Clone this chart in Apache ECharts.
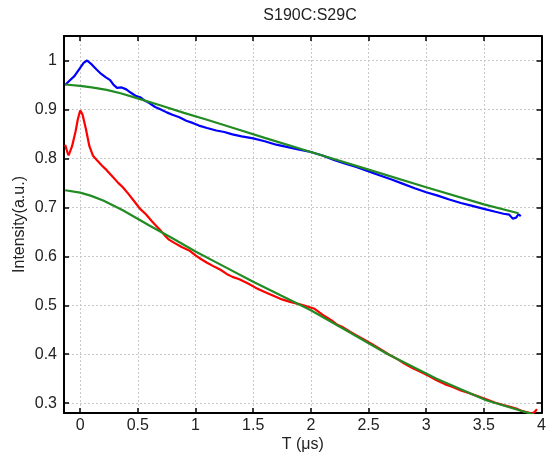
<!DOCTYPE html>
<html>
<head>
<meta charset="utf-8">
<script src="https://cdn.jsdelivr.net/npm/echarts@6/dist/echarts.min.js"></script>
<style>html,body{margin:0;padding:0;background:#fff}#c{width:549px;height:466px}</style>
</head>
<body>
<div id="c"></div>
<script>
var title = 'S190C:S29C';
var xName = 'T (\u03bcs)';
var yName = 'Intensity(a.u.)';
var xTicks = [0, 0.5, 1, 1.5, 2, 2.5, 3, 3.5, 4];
var yTicks = [0.3, 0.4, 0.5, 0.6, 0.7, 0.8, 0.9, 1];

var blueX = [-0.13,-0.10,-0.05,0.00,0.03,0.06,0.10,0.14,0.18,0.22,0.26,0.29,0.32,0.36,0.40,0.44,0.48,0.52,0.56,0.60,0.65,0.70,0.75,0.80,0.86,0.92,0.98,1.03,1.10,1.18,1.25,1.32,1.40,1.50,1.60,1.70,1.80,1.90,2.00,2.10,2.20,2.30,2.40,2.52,2.60,2.70,2.80,2.90,3.00,3.10,3.20,3.30,3.40,3.50,3.60,3.67,3.72,3.75,3.78,3.80,3.82];
var blueY = [0.950,0.957,0.968,0.985,0.995,1.000,0.992,0.982,0.973,0.966,0.960,0.950,0.944,0.945,0.941,0.934,0.928,0.925,0.918,0.913,0.905,0.900,0.894,0.889,0.884,0.877,0.872,0.867,0.862,0.857,0.854,0.849,0.845,0.841,0.835,0.828,0.823,0.818,0.813,0.806,0.797,0.789,0.782,0.772,0.765,0.757,0.748,0.739,0.731,0.724,0.716,0.709,0.703,0.697,0.691,0.687,0.685,0.677,0.679,0.686,0.682];

var fitBlueX = [-0.13,0.00,0.10,0.23,0.35,0.52,0.70,0.90,1.10,1.37,1.60,2.00,2.50,3.00,3.50,3.80];
var fitBlueY = [0.951,0.948,0.945,0.940,0.933,0.921,0.908,0.893,0.879,0.859,0.842,0.813,0.777,0.741,0.706,0.688];

var redX = [-0.13,-0.11,-0.10,-0.07,-0.04,-0.02,0.00,0.02,0.05,0.08,0.11,0.15,0.19,0.23,0.28,0.33,0.37,0.42,0.47,0.52,0.57,0.62,0.66,0.70,0.74,0.77,0.82,0.88,0.945,1.00,1.05,1.10,1.17,1.22,1.27,1.32,1.38,1.46,1.52,1.60,1.67,1.75,1.82,1.89,1.95,2.03,2.10,2.18,2.23,2.28,2.34,2.40,2.46,2.52,2.60,2.68,2.75,2.81,2.88,2.95,3.02,3.09,3.16,3.23,3.30,3.38,3.45,3.52,3.60,3.67,3.72,3.78,3.83,3.87,3.90,3.92,3.94,3.96];
var redY = [0.828,0.812,0.806,0.825,0.855,0.880,0.898,0.890,0.860,0.825,0.806,0.795,0.785,0.776,0.763,0.750,0.741,0.727,0.712,0.697,0.686,0.672,0.662,0.652,0.641,0.634,0.627,0.619,0.612,0.602,0.594,0.587,0.578,0.572,0.564,0.558,0.553,0.544,0.536,0.527,0.520,0.512,0.507,0.503,0.499,0.493,0.481,0.469,0.460,0.455,0.446,0.438,0.430,0.422,0.411,0.399,0.390,0.381,0.372,0.364,0.356,0.347,0.339,0.333,0.326,0.320,0.314,0.308,0.301,0.296,0.293,0.289,0.284,0.282,0.280,0.279,0.282,0.288];

var fitRedX = [-0.13,0.00,0.09,0.20,0.37,0.60,0.80,1.00,1.25,1.50,1.75,2.00,2.32,2.66,3.09,3.52,3.93];
var fitRedY = [0.735,0.730,0.724,0.714,0.694,0.663,0.637,0.610,0.579,0.548,0.519,0.490,0.447,0.401,0.350,0.306,0.277];

function pairs(xs, ys) { return xs.map(function (x, i) { return [x, ys[i]]; }); }

var font = 'Liberation Sans, Arial, Helvetica, sans-serif';
var chart = echarts.init(document.getElementById('c'), null, {renderer: 'canvas'});

function mkX(pos, show) {
  return {
    type: 'value', position: pos, min: -0.14, max: 4,
    axisLine: {show: true, onZero: false, lineStyle: {color: '#000', width: 2}},
    axisTick: {show: true, inside: true, length: 5, customValues: xTicks, lineStyle: {color: '#000', width: 1.5}},
    axisLabel: {show: show, customValues: xTicks, color: '#222', fontSize: 16, fontFamily: font, margin: 5},
    splitLine: {show: show, lineStyle: {color: '#c8c8c8', type: [2, 2], width: 1}},
    name: show ? xName : '', nameLocation: 'middle', nameGap: 24, nameMoveOverlap: false,
    nameTextStyle: {color: '#222', fontSize: 16, fontFamily: font}
  };
}
function mkY(pos, show) {
  return {
    type: 'value', position: pos, min: 0.28, max: 1.05,
    axisLine: {show: true, onZero: false, lineStyle: {color: '#000', width: 2}},
    axisTick: {show: true, inside: true, length: 5, customValues: yTicks, lineStyle: {color: '#000', width: 1.5}},
    axisLabel: {show: show, customValues: yTicks, color: '#222', fontSize: 16, fontFamily: font, margin: 7},
    splitLine: {show: show, lineStyle: {color: '#c8c8c8', type: [2, 2], width: 1}},
    name: show ? yName : '', nameLocation: 'middle', nameGap: 36, nameRotate: 90, nameMoveOverlap: false,
    nameTextStyle: {color: '#222', fontSize: 16, fontFamily: font}
  };
}

function line(xs, ys, color, name) {
  return {
    type: 'line', name: name, data: pairs(xs, ys), showSymbol: false, symbol: 'none',
    lineStyle: {color: color, width: 2.2}, itemStyle: {color: color}, animation: false,
    xAxisIndex: 0, yAxisIndex: 0, clip: true
  };
}

chart.setOption({
  animation: false,
  backgroundColor: '#fff',
  title: {text: title, left: 305, textAlign: 'center', top: 3,
    textStyle: {color: '#222', fontSize: 16, fontWeight: 'normal', fontFamily: font}},
  grid: {left: 64, right: 3, top: 36, bottom: 53, containLabel: false},
  xAxis: [mkX('bottom', true), mkX('top', false)],
  yAxis: [mkY('left', true), mkY('right', false)],
  series: [
    line(blueX, blueY, '#0000ff', 'blue'),
    line(redX, redY, '#ff0000', 'red'),
    line(fitBlueX, fitBlueY, '#238b23', 'fit1'),
    line(fitRedX, fitRedY, '#238b23', 'fit2')
  ]
});
</script>
</body>
</html>
